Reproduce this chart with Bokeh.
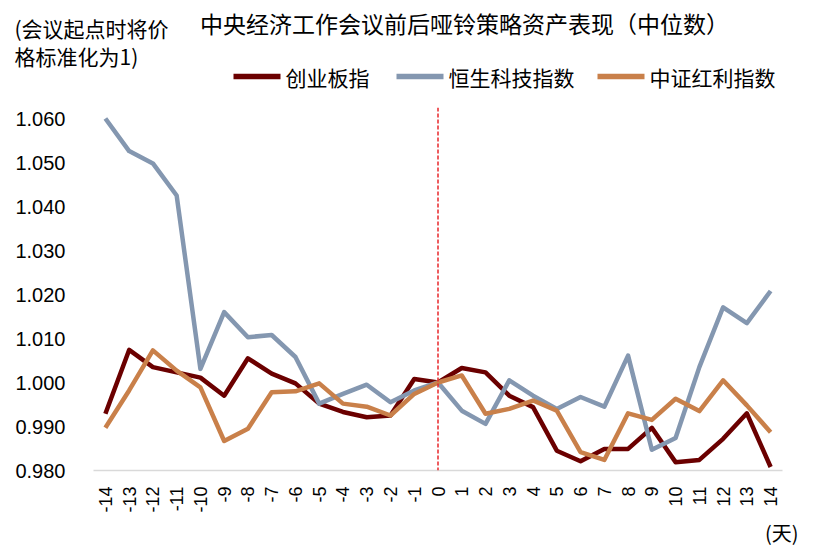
import math
from bokeh.plotting import figure
from bokeh.models import (Span, FixedTicker, NumeralTickFormatter, Range1d, Title)
from bokeh.core.properties import value
from bokeh.embed import file_html
from bokeh.resources import INLINE

days = list(range(-14, 15))
tick_labels = {d: str(d) for d in days}

chinext = [0.9929, 1.0074, 1.0035, 1.0023, 1.0011, 0.9970, 1.0055, 1.0020, 0.9998, 0.9952,
           0.9933, 0.9921, 0.9925, 1.0008, 1.0000, 1.0033, 1.0023, 0.9970, 0.9944, 0.9845,
           0.9821, 0.9849, 0.9849, 0.9897, 0.9819, 0.9824, 0.9872, 0.9930, 0.9808]
hstech = [1.0600, 1.0526, 1.0498, 1.0425, 1.0031, 1.0160, 1.0103, 1.0108, 1.0058, 0.9952,
          0.9974, 0.9995, 0.9955, 0.9982, 1.0000, 0.9936, 0.9906, 1.0005, 0.9970, 0.9940,
          0.9967, 0.9945, 1.0061, 0.9847, 0.9874, 1.0035, 1.0171, 1.0135, 1.0208]
dividend = [0.9897, 0.9982, 1.0073, 1.0027, 0.9989, 0.9867, 0.9895, 0.9978, 0.9980, 0.9998,
            0.9952, 0.9945, 0.9925, 0.9974, 1.0000, 1.0016, 0.9929, 0.9940, 0.9959, 0.9936,
            0.9842, 0.9824, 0.9930, 0.9915, 0.9963, 0.9935, 1.0005, 0.9948, 0.9887]
series_names = ["创业板指", "恒生科技指数", "中证红利指数"]
y_ticks = [0.98, 0.99, 1.00, 1.01, 1.02, 1.03, 1.04, 1.05, 1.06]

title_text = "中央经济工作会议前后哑铃策略资产表现（中位数）"
note_lines = ["(会议起点时将价", "格标准化为1)"]
unit_text = "(天)"

colors = ["#6B0000", "#8497B0", "#C9804A"]
CJK = "Noto Sans CJK SC"
LAT = "Liberation Sans"
W = 804
HEAD_H = 99
MAIN_H = 448

# ---------- header (pixel coordinates): title, note, legend ----------
h = figure(width=W, height=HEAD_H, output_backend="svg", toolbar_location=None,
           x_range=Range1d(0, W), y_range=Range1d(HEAD_H, 0),
           x_axis_type=None, y_axis_type=None, min_border=0)
h.outline_line_color = None
h.grid.visible = False
h.text(x=[464], y=[22], text=[title_text], text_font=value(CJK), text_font_size="23px",
       text_align="center", text_baseline="middle", text_color="#000000")
h.text(x=[14, 14], y=[27, 55], text=note_lines, text_font=value(CJK), text_font_size="21px",
       text_align="left", text_baseline="middle", text_color="#000000")
sw_x0 = [233, 396, 597]
sw_len = 47
leg_y = 76
h.segment(x0=sw_x0, y0=[leg_y] * 3, x1=[x + sw_len for x in sw_x0], y1=[leg_y] * 3,
          line_color=colors, line_width=5.5)
h.text(x=[x + sw_len + 5 for x in sw_x0], y=[leg_y] * 3, text=series_names,
       text_font=value(CJK), text_font_size="21px", text_align="left",
       text_baseline="middle", text_color="#000000")

# ---------- main chart ----------
p = figure(width=W, height=MAIN_H, output_backend="svg", toolbar_location=None,
           x_range=Range1d(-14.5, 14.5), y_range=Range1d(0.98, 1.0625),
           min_border_left=93, min_border_right=22, min_border_top=8,
           min_border_bottom=77)
p.outline_line_color = None
p.grid.visible = False

for vals, c in zip([chinext, hstech, dividend], colors):
    p.line(days, vals, line_color=c, line_width=4.5, line_join="round")

p.add_layout(Span(location=0, dimension="height", line_color="#E8262A",
                  line_width=1.5, line_dash="4 2"))

p.xaxis.ticker = FixedTicker(ticks=days)
p.xaxis.major_label_overrides = tick_labels
p.xaxis.major_label_orientation = math.pi / 2
p.xaxis.major_tick_line_color = None
p.xaxis.minor_tick_line_color = None
p.xaxis.axis_line_color = "#D9D9D9"
p.xaxis.axis_line_width = 1.5
p.xaxis.major_label_standoff = 10
p.xaxis.major_label_text_font = LAT
p.xaxis.major_label_text_font_size = "18px"
p.xaxis.major_label_text_color = "#000000"

p.add_layout(Title(text=unit_text, align="right", offset=-16, standoff=0,
                   text_font=CJK, text_font_size="20px", text_font_style="normal",
                   text_color="#000000"), "below")

p.yaxis.ticker = FixedTicker(ticks=y_ticks)
p.yaxis.formatter = NumeralTickFormatter(format="0.000")
p.yaxis.major_tick_line_color = None
p.yaxis.minor_tick_line_color = None
p.yaxis.axis_line_color = None
p.yaxis.major_label_standoff = 22
p.yaxis.major_label_text_font = LAT
p.yaxis.major_label_text_font_size = "20px"
p.yaxis.major_label_text_color = "#000000"

open("out.html", "w").write(file_html([h, p], INLINE))
